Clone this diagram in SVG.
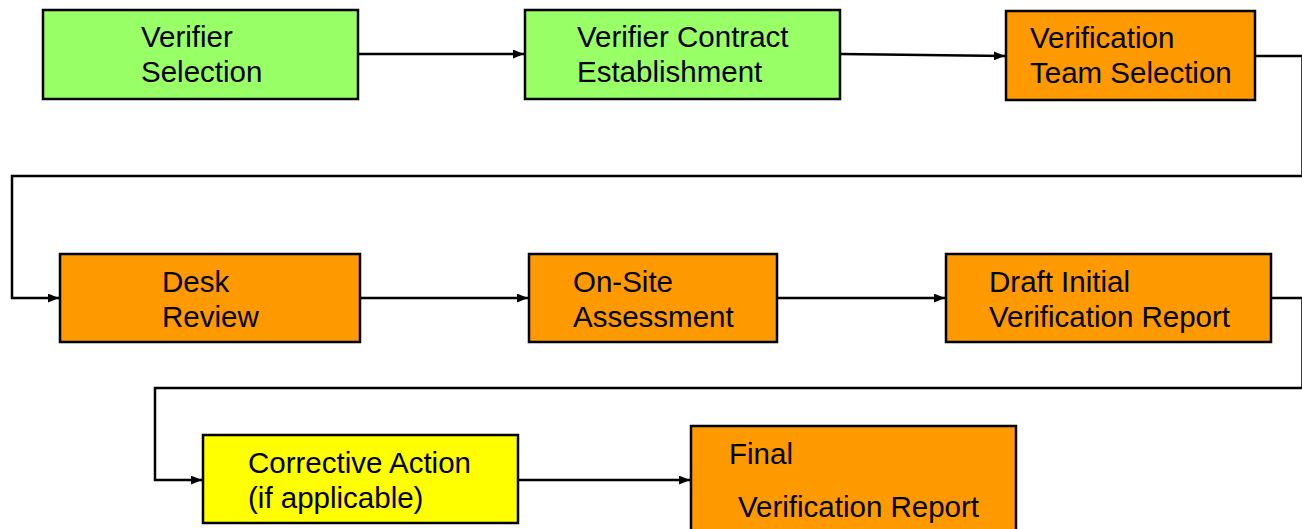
<svg xmlns="http://www.w3.org/2000/svg" width="1302" height="529" viewBox="0 0 1302 529">
<style>
.box{stroke:#000;stroke-width:2.5}
.g{fill:#99FF66}
.o{fill:#FF9900}
.y{fill:#FFFF00}
text{font-family:"Liberation Sans",Arial,sans-serif;font-size:29.5px;fill:#000}
.c{fill:none;stroke:#000;stroke-width:2.5}
</style>
<defs>
<marker id="ah" viewBox="0 0 10 8" refX="10" refY="4" markerWidth="11" markerHeight="9" markerUnits="userSpaceOnUse" orient="auto">
<path d="M0,0 L10,4 L0,8 Z" fill="#000"/>
</marker>
</defs>
<rect width="1302" height="529" fill="#fff"/>
<g id="connectors">
<line class="c" x1="359" y1="54" x2="524" y2="54" marker-end="url(#ah)"/>
<line class="c" x1="841" y1="54" x2="1005" y2="56" marker-end="url(#ah)"/>
<polyline class="c" points="1256,56 1302.5,56 1302.5,176 12,176 12,298 59,298" marker-end="url(#ah)"/>
<line class="c" x1="361" y1="298" x2="528" y2="298" marker-end="url(#ah)"/>
<line class="c" x1="778" y1="298" x2="945" y2="298" marker-end="url(#ah)"/>
<polyline class="c" points="1272,298 1302.5,298 1302.5,388 155,388 155,480 202,480" marker-end="url(#ah)"/>
<line class="c" x1="519" y1="480" x2="690" y2="480" marker-end="url(#ah)"/>
</g>
<g id="n1"><rect class="box g" x="43" y="10" width="315" height="89"/><text x="141" y="47">Verifier</text><text x="141" y="82">Selection</text></g>
<g id="n2"><rect class="box g" x="525" y="10" width="315" height="89"/><text x="577" y="47">Verifier Contract</text><text x="577" y="82">Establishment</text></g>
<g id="n3"><rect class="box o" x="1006" y="11" width="249" height="89"/><text x="1030" y="48">Verification</text><text x="1030" y="83">Team Selection</text></g>
<g id="n4"><rect class="box o" x="60" y="254" width="300" height="88"/><text x="162" y="292">Desk</text><text x="162" y="327">Review</text></g>
<g id="n5"><rect class="box o" x="529" y="254" width="248" height="88"/><text x="573" y="292">On-Site</text><text x="573" y="327">Assessment</text></g>
<g id="n6"><rect class="box o" x="946" y="254" width="325" height="88"/><text x="989" y="292">Draft Initial</text><text x="989" y="327">Verification Report</text></g>
<g id="n7"><rect class="box y" x="203" y="435" width="315" height="88"/><text x="248" y="473">Corrective Action</text><text x="248" y="508">(if applicable)</text></g>
<g id="n8"><rect class="box o" x="691" y="426" width="325" height="110"/><text x="729" y="464">Final</text><text x="738" y="517">Verification Report</text></g>
</svg>
